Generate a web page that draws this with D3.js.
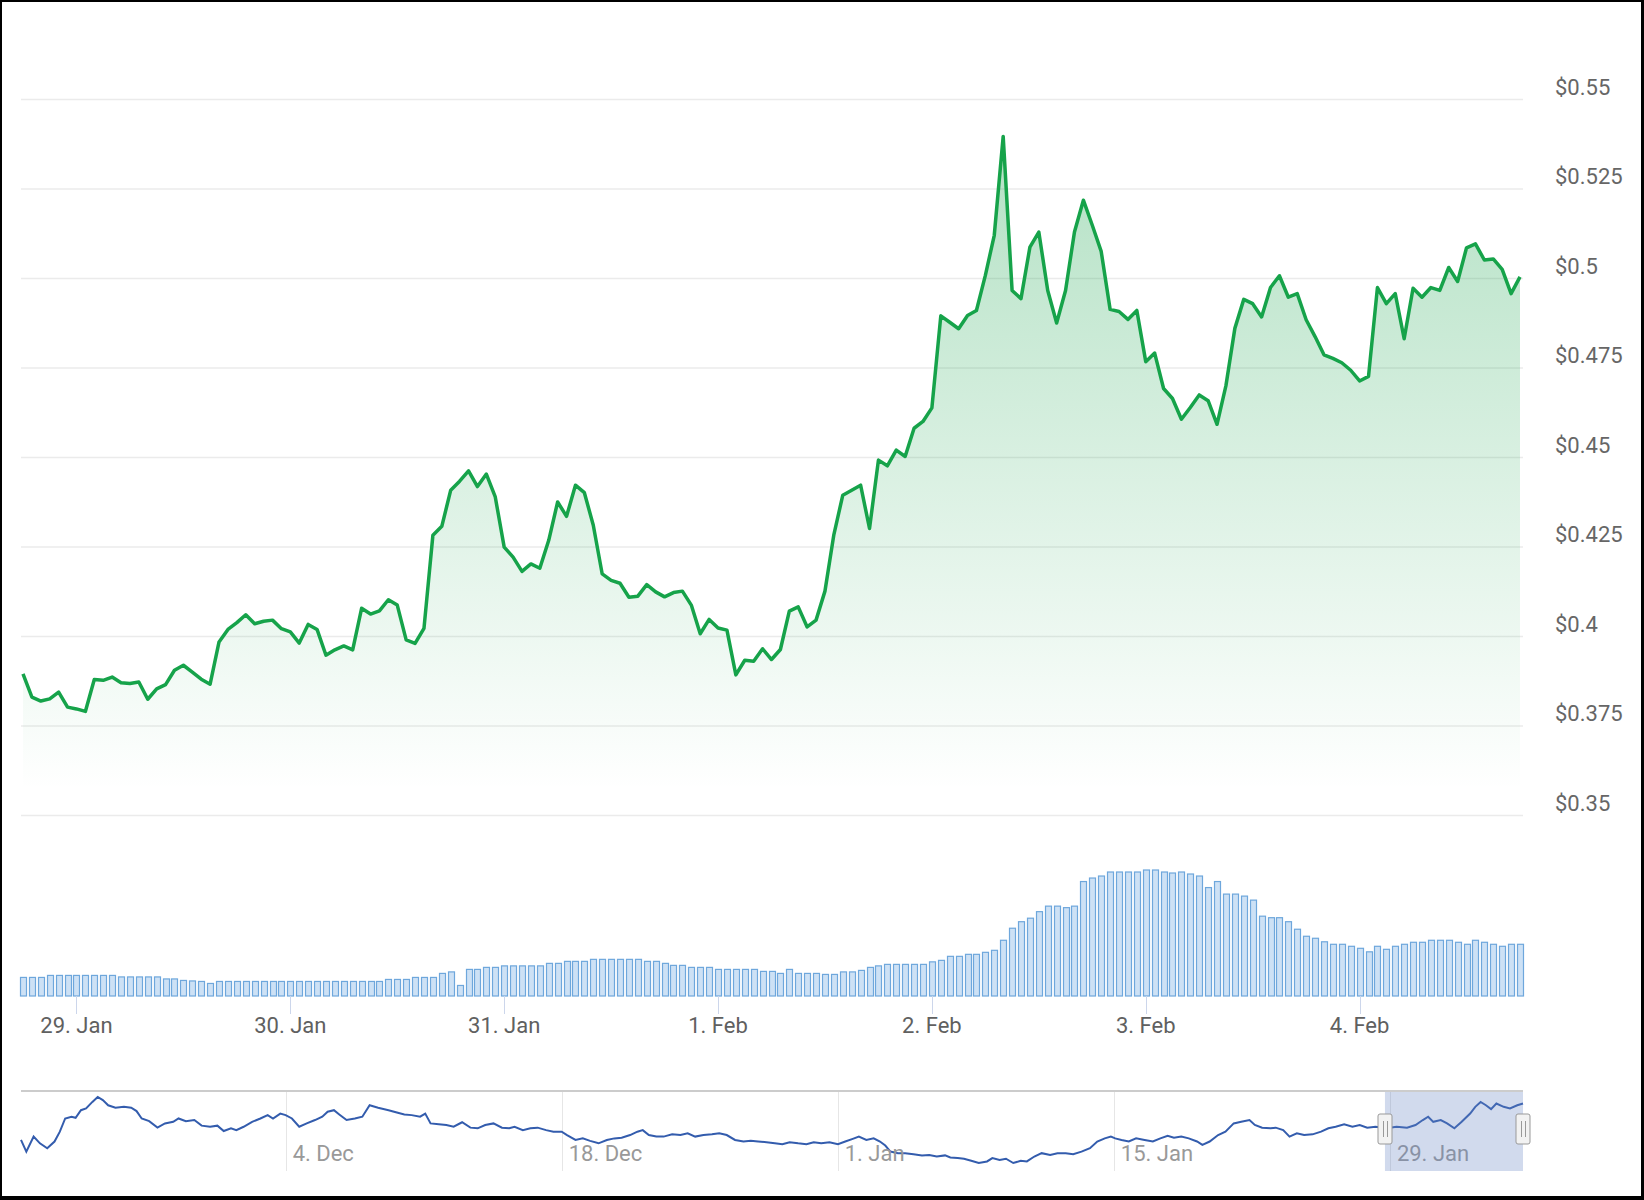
<!DOCTYPE html>
<html>
<head>
<meta charset="utf-8">
<script src="https://cdn.jsdelivr.net/npm/d3@7"></script>
<style>
  body { margin: 0; background: #fff; }
  svg { display: block; font-family: Roboto, "Noto Sans", sans-serif; }
</style>
</head>
<body>
<div id="chart"></div>
<script>
// hourly prices, first point is 28 Jan 18:00
var startTime = new Date(2023, 0, 28, 18);

var prices = [
  0.3896, 0.3831, 0.3820, 0.3826, 0.3845, 0.3803, 0.3798, 0.3791, 0.3880, 0.3878,
  0.3887, 0.3871, 0.3869, 0.3873, 0.3825, 0.3854, 0.3866, 0.3906, 0.3920, 0.3901,
  0.3881, 0.3867, 0.3985, 0.4020, 0.4039, 0.4061, 0.4036, 0.4043, 0.4046, 0.4022,
  0.4013, 0.3982, 0.4034, 0.4020, 0.3948, 0.3963, 0.3974, 0.3963, 0.4079, 0.4063,
  0.4072, 0.4103, 0.4088, 0.3991, 0.3981, 0.4023, 0.4283, 0.4308, 0.4409, 0.4434,
  0.4463, 0.4419, 0.4454, 0.4390, 0.4250, 0.4222, 0.4182, 0.4203, 0.4191, 0.4269,
  0.4376, 0.4336, 0.4423, 0.4402, 0.4311, 0.4175, 0.4157, 0.4149, 0.4110, 0.4113,
  0.4145, 0.4125, 0.4111, 0.4123, 0.4127, 0.4088, 0.4008, 0.4048, 0.4024, 0.4018,
  0.3893, 0.3934, 0.3931, 0.3966, 0.3936, 0.3964, 0.4071, 0.4083, 0.4027, 0.4046,
  0.4127, 0.4285, 0.4395, 0.4409, 0.4423, 0.4302, 0.4493, 0.4477, 0.4521, 0.4503,
  0.4582, 0.4601, 0.4639, 0.4896, 0.4878, 0.4860, 0.4897, 0.4911, 0.5009, 0.5121,
  0.5397, 0.4967, 0.4944, 0.5088, 0.5130, 0.4967, 0.4876, 0.4967, 0.5130, 0.5219,
  0.5149, 0.5076, 0.4914, 0.4908, 0.4886, 0.4911, 0.4768, 0.4792, 0.4693, 0.4665,
  0.4607, 0.4640, 0.4675, 0.4659, 0.4593, 0.4701, 0.4861, 0.4942, 0.4930, 0.4893,
  0.4975, 0.5008, 0.4948, 0.4958, 0.4885, 0.4838, 0.4787, 0.4777, 0.4765, 0.4744,
  0.4714, 0.4727, 0.4975, 0.4930, 0.4958, 0.4832, 0.4973, 0.4948, 0.4975, 0.4967,
  0.5031, 0.4992, 0.5086, 0.5097, 0.5052, 0.5055, 0.5026, 0.4958, 0.5005
];

// 24h volume for the same hours ($M)
var volumes = [
  37, 37, 37, 41, 41, 41, 41, 41, 41, 41,
  41, 38, 38, 38, 38, 38, 34, 34, 31, 30,
  29, 25, 29, 29, 29, 29, 29, 29, 29, 29,
  29, 29, 29, 29, 29, 29, 29, 29, 29, 29,
  29, 33, 33, 33, 37, 37, 37, 45, 48, 21,
  53, 53, 57, 57, 60, 60, 60, 60, 60, 65,
  65, 69, 69, 69, 73, 73, 73, 73, 73, 73,
  69, 69, 65, 61, 61, 57, 57, 57, 53, 53,
  53, 53, 53, 49, 49, 45, 53, 45, 45, 45,
  43, 43, 48, 48, 51, 57, 60, 63, 63, 63,
  63, 63, 68, 71, 79, 79, 83, 83, 87, 91,
  111, 135, 148, 155, 168, 179, 179, 176, 179, 228,
  235, 239, 247, 247, 247, 247, 251, 251, 247, 245,
  247, 243, 239, 216, 228, 203, 203, 199, 191, 159,
  156, 156, 148, 133, 119, 115, 108, 103, 103, 99,
  95, 88, 99, 93, 99, 103, 107, 107, 111, 111,
  111, 107, 103, 111, 107, 103, 99, 103, 103
];

var priceTicks = [0.35, 0.375, 0.4, 0.425, 0.45, 0.475, 0.5, 0.525, 0.55];

// navigator: whole history, days counted from 4 Dec
var navBase = new Date(2022, 11, 4);
var navDays = [
  -13.42, -13.15, -12.78, -12.46, -12.09, -11.72, -11.45, -11.18, -10.86, -10.65,
  -10.38, -10.12, -9.80, -9.53, -9.27, -9.00, -8.63, -8.20, -7.83, -7.56,
  -7.30, -6.92, -6.50, -6.12, -5.70, -5.43, -5.06, -4.63, -4.26, -3.83,
  -3.46, -3.14, -2.77, -2.50, -2.13, -1.70, -1.28, -0.91, -0.64, -0.27,
  0.00, 0.32, 0.69, 1.07, 1.49, 1.86, 2.13, 2.45, 2.72, 3.09,
  3.51, 3.89, 4.26, 4.69, 5.22, 5.64, 6.02, 6.39, 6.82, 7.08,
  7.35, 7.77, 8.15, 8.52, 8.95, 9.37, 9.74, 10.12, 10.54, 10.97,
  11.34, 11.61, 12.03, 12.41, 12.78, 13.21, 13.58, 14.00, 14.27, 14.70,
  15.07, 15.44, 15.87, 16.29, 16.67, 17.04, 17.47, 17.84, 18.11, 18.42,
  18.80, 19.17, 19.60, 20.02, 20.39, 20.77, 21.19, 21.62, 21.99, 22.37,
  22.79, 23.22, 23.59, 23.96, 24.39, 24.81, 25.19, 25.56, 25.99, 26.41,
  26.78, 27.16, 27.58, 28.01, 28.38, 28.76, 29.07, 29.45, 29.82, 30.14,
  30.41, 30.67, 31.05, 31.42, 31.84, 32.27, 32.64, 33.02, 33.44, 33.71,
  34.08, 34.40, 34.77, 35.15, 35.57, 35.84, 36.21, 36.53, 36.90, 37.28,
  37.59, 37.97, 38.34, 38.77, 39.14, 39.56, 39.94, 40.36, 40.79, 41.16,
  41.54, 41.85, 42.07, 42.39, 42.76, 43.13, 43.56, 43.98, 44.36, 44.73,
  45.05, 45.42, 45.80, 46.22, 46.49, 46.86, 47.29, 47.66, 48.08, 48.46,
  48.88, 49.15, 49.52, 49.95, 50.21, 50.59, 50.91, 51.28, 51.65, 52.08,
  52.51, 52.88, 53.25, 53.68, 54.10, 54.47, 54.85, 55.27, 55.81, 56.34,
  56.87, 57.30, 57.67, 57.94, 58.20, 58.58, 58.90, 59.27, 59.64, 60.07,
  60.33, 60.60, 60.87, 61.13, 61.40, 61.77, 62.09, 62.46, 62.75
];
var navPrices = [
  0.337, 0.285, 0.352, 0.322, 0.300, 0.330, 0.374, 0.433, 0.441, 0.436,
  0.470, 0.478, 0.507, 0.529, 0.515, 0.492, 0.481, 0.485, 0.481, 0.466,
  0.433, 0.421, 0.392, 0.411, 0.418, 0.433, 0.421, 0.426, 0.401, 0.396,
  0.401, 0.377, 0.389, 0.381, 0.396, 0.418, 0.433, 0.448, 0.433, 0.455,
  0.448, 0.433, 0.396, 0.411, 0.426, 0.441, 0.463, 0.470, 0.451, 0.426,
  0.433, 0.441, 0.492, 0.481, 0.470, 0.460, 0.451, 0.448, 0.441, 0.455,
  0.411, 0.407, 0.404, 0.396, 0.416, 0.392, 0.389, 0.404, 0.411, 0.392,
  0.389, 0.396, 0.381, 0.389, 0.392, 0.381, 0.374, 0.374, 0.359, 0.337,
  0.344, 0.333, 0.322, 0.337, 0.344, 0.347, 0.359, 0.374, 0.381, 0.359,
  0.352, 0.352, 0.362, 0.359, 0.367, 0.352, 0.359, 0.362, 0.367, 0.359,
  0.337, 0.330, 0.333, 0.330, 0.327, 0.322, 0.318, 0.327, 0.322, 0.318,
  0.327, 0.322, 0.327, 0.318, 0.330, 0.342, 0.352, 0.337, 0.344, 0.330,
  0.312, 0.285, 0.278, 0.278, 0.273, 0.268, 0.270, 0.263, 0.268, 0.259,
  0.256, 0.253, 0.244, 0.234, 0.241, 0.256, 0.248, 0.253, 0.234, 0.244,
  0.241, 0.263, 0.278, 0.270, 0.278, 0.278, 0.273, 0.285, 0.300, 0.330,
  0.344, 0.352, 0.344, 0.337, 0.330, 0.344, 0.337, 0.330, 0.344, 0.356,
  0.347, 0.352, 0.344, 0.330, 0.315, 0.330, 0.359, 0.374, 0.411, 0.418,
  0.426, 0.404, 0.392, 0.389, 0.392, 0.381, 0.352, 0.367, 0.359, 0.362,
  0.374, 0.389, 0.396, 0.407, 0.396, 0.404, 0.392, 0.396, 0.389, 0.396,
  0.392, 0.404, 0.426, 0.441, 0.418, 0.426, 0.411, 0.389, 0.418, 0.455,
  0.485, 0.507, 0.492, 0.475, 0.500, 0.485, 0.478, 0.492, 0.500
];
var navTickDays = [0, 14, 28, 42, 56];

var width = 1644, height = 1200;
var green = "#16a34a";

var svg = d3.select("#chart").append("svg")
  .attr("width", width)
  .attr("height", height);

svg.append("rect").attr("width", width).attr("height", height).attr("fill", "#fff");

var times = prices.map(function(p, i) { return d3.timeHour.offset(startTime, i); });

// ---- main price chart ----
var xScale = d3.scaleTime()
  .domain([times[0], times[times.length - 1]])
  .range([23, 1520]);

var yScale = d3.scaleLinear()
  .domain([0.35, 0.55])
  .range([815.6, 99.6]);

// horizontal grid
svg.append("g").selectAll("line")
  .data(priceTicks).enter()
  .append("line")
  .attr("x1", 21).attr("x2", 1523)
  .attr("y1", function(d) { return yScale(d); })
  .attr("y2", function(d) { return yScale(d); })
  .attr("stroke", "#ebebeb")
  .attr("stroke-width", 1.5);

// price labels on the right
svg.append("g").selectAll("text")
  .data(priceTicks).enter()
  .append("text")
  .attr("x", 1555)
  .attr("y", function(d) { return yScale(d) - 5; })
  .attr("font-size", 22)
  .attr("fill", "#666")
  .text(function(d) { return "$" + d; });

var defs = svg.append("defs");
var grad = defs.append("linearGradient")
  .attr("id", "areaFill")
  .attr("gradientUnits", "userSpaceOnUse")
  .attr("x1", 0).attr("x2", 0)
  .attr("y1", 110).attr("y2", 790);
grad.append("stop").attr("offset", 0).attr("stop-color", green).attr("stop-opacity", 0.34);
grad.append("stop").attr("offset", 1).attr("stop-color", green).attr("stop-opacity", 0);

var area = d3.area()
  .x(function(d, i) { return xScale(times[i]); })
  .y0(yScale(0.35))
  .y1(function(d) { return yScale(d); });

var line = d3.line()
  .x(function(d, i) { return xScale(times[i]); })
  .y(function(d) { return yScale(d); });

svg.append("path")
  .datum(prices)
  .attr("d", area)
  .attr("fill", "url(#areaFill)");

svg.append("path")
  .datum(prices)
  .attr("d", line)
  .attr("fill", "none")
  .attr("stroke", green)
  .attr("stroke-width", 3.5)
  .attr("stroke-linejoin", "round");

// ---- volume bars ----
var volBase = 996;
var vScale = d3.scaleLinear()
  .domain([0, d3.max(volumes)])
  .range([volBase, 870]);

svg.append("g").selectAll("rect")
  .data(volumes).enter()
  .append("rect")
  .attr("x", function(d, i) { return Math.round(xScale(times[i]) - 3) + 0.5; })
  .attr("y", function(d) { return vScale(d); })
  .attr("width", 6)
  .attr("height", function(d) { return volBase - vScale(d); })
  .attr("fill", "#cde1f5")
  .attr("stroke", "#6ea7dc")
  .attr("stroke-width", 1.2);

// x axis: ticks every day
var days = d3.timeDay.range(d3.timeDay.ceil(times[0]), times[times.length - 1]);
var dayFormat = d3.timeFormat("%-d. %b");

svg.append("g").selectAll("line")
  .data(days).enter()
  .append("line")
  .attr("x1", function(d) { return Math.round(xScale(d)) + 0.5; })
  .attr("x2", function(d) { return Math.round(xScale(d)) + 0.5; })
  .attr("y1", volBase).attr("y2", 1014)
  .attr("stroke", "#ccd6eb");

svg.append("g").selectAll("text")
  .data(days).enter()
  .append("text")
  .attr("x", function(d) { return xScale(d); })
  .attr("y", 1033)
  .attr("text-anchor", "middle")
  .attr("font-size", 22)
  .attr("fill", "#606060")
  .text(function(d) { return dayFormat(d); });

// ---- navigator ----
function navDate(d) { return new Date(navBase.getTime() + d * 864e5); }

var navTop = 1091, navBottom = 1171;
var nx = d3.scaleTime()
  .domain([navDate(navDays[0]), navDate(navDays[navDays.length - 1])])
  .range([21, 1523]);
var ny = d3.scaleLinear()
  .domain(d3.extent(navPrices))
  .range([1163, 1097]);

var navTicks = navTickDays.map(navDate);

svg.append("g").selectAll("line")
  .data(navTicks).enter()
  .append("line")
  .attr("x1", function(d) { return Math.round(nx(d)) + 0.5; })
  .attr("x2", function(d) { return Math.round(nx(d)) + 0.5; })
  .attr("y1", navTop).attr("y2", navBottom)
  .attr("stroke", "#e6e6e6");

var navLine = d3.line()
  .x(function(d, i) { return nx(navDate(navDays[i])); })
  .y(function(d) { return ny(d); });

svg.append("path").datum(navPrices)
  .attr("d", navLine)
  .attr("fill", "none")
  .attr("stroke", "#335cad")
  .attr("stroke-width", 2);

svg.append("g").selectAll("text")
  .data(navTicks).enter()
  .append("text")
  .attr("x", function(d) { return nx(d) + 7; })
  .attr("y", 1161)
  .attr("font-size", 22)
  .attr("fill", "#999")
  .text(function(d) { return dayFormat(d); });

// selected range = the main chart's range
var selLeft = nx(times[0]);
var selRight = Math.min(nx(times[times.length - 1]), 1523);

svg.append("rect")
  .attr("x", selLeft).attr("y", navTop)
  .attr("width", selRight - selLeft).attr("height", navBottom - navTop)
  .attr("fill", "rgba(102,133,194,0.3)");

svg.append("line")
  .attr("x1", 21).attr("x2", 1523)
  .attr("y1", navTop).attr("y2", navTop)
  .attr("stroke", "#cccccc").attr("stroke-width", 2);

var handles = svg.append("g").selectAll("g")
  .data([selLeft, selRight]).enter()
  .append("g")
  .attr("transform", function(d) { return "translate(" + Math.round(d) + ",1129)"; });
handles.append("rect")
  .attr("x", -7).attr("y", -15)
  .attr("width", 14).attr("height", 30)
  .attr("rx", 2)
  .attr("fill", "#f2f2f2")
  .attr("stroke", "#999");
handles.append("path")
  .attr("d", "M-1.5,-8V8M2.5,-8V8")
  .attr("stroke", "#999")
  .attr("fill", "none");

// frame round the picture
svg.append("rect").attr("x", 0).attr("y", 0).attr("width", width).attr("height", 2).attr("fill", "#000");
svg.append("rect").attr("x", 0).attr("y", 0).attr("width", 2).attr("height", height).attr("fill", "#000");
svg.append("rect").attr("x", width - 3).attr("y", 0).attr("width", 3).attr("height", height).attr("fill", "#000");
svg.append("rect").attr("x", 0).attr("y", height - 4).attr("width", width).attr("height", 4).attr("fill", "#000");
</script>
</body>
</html>
